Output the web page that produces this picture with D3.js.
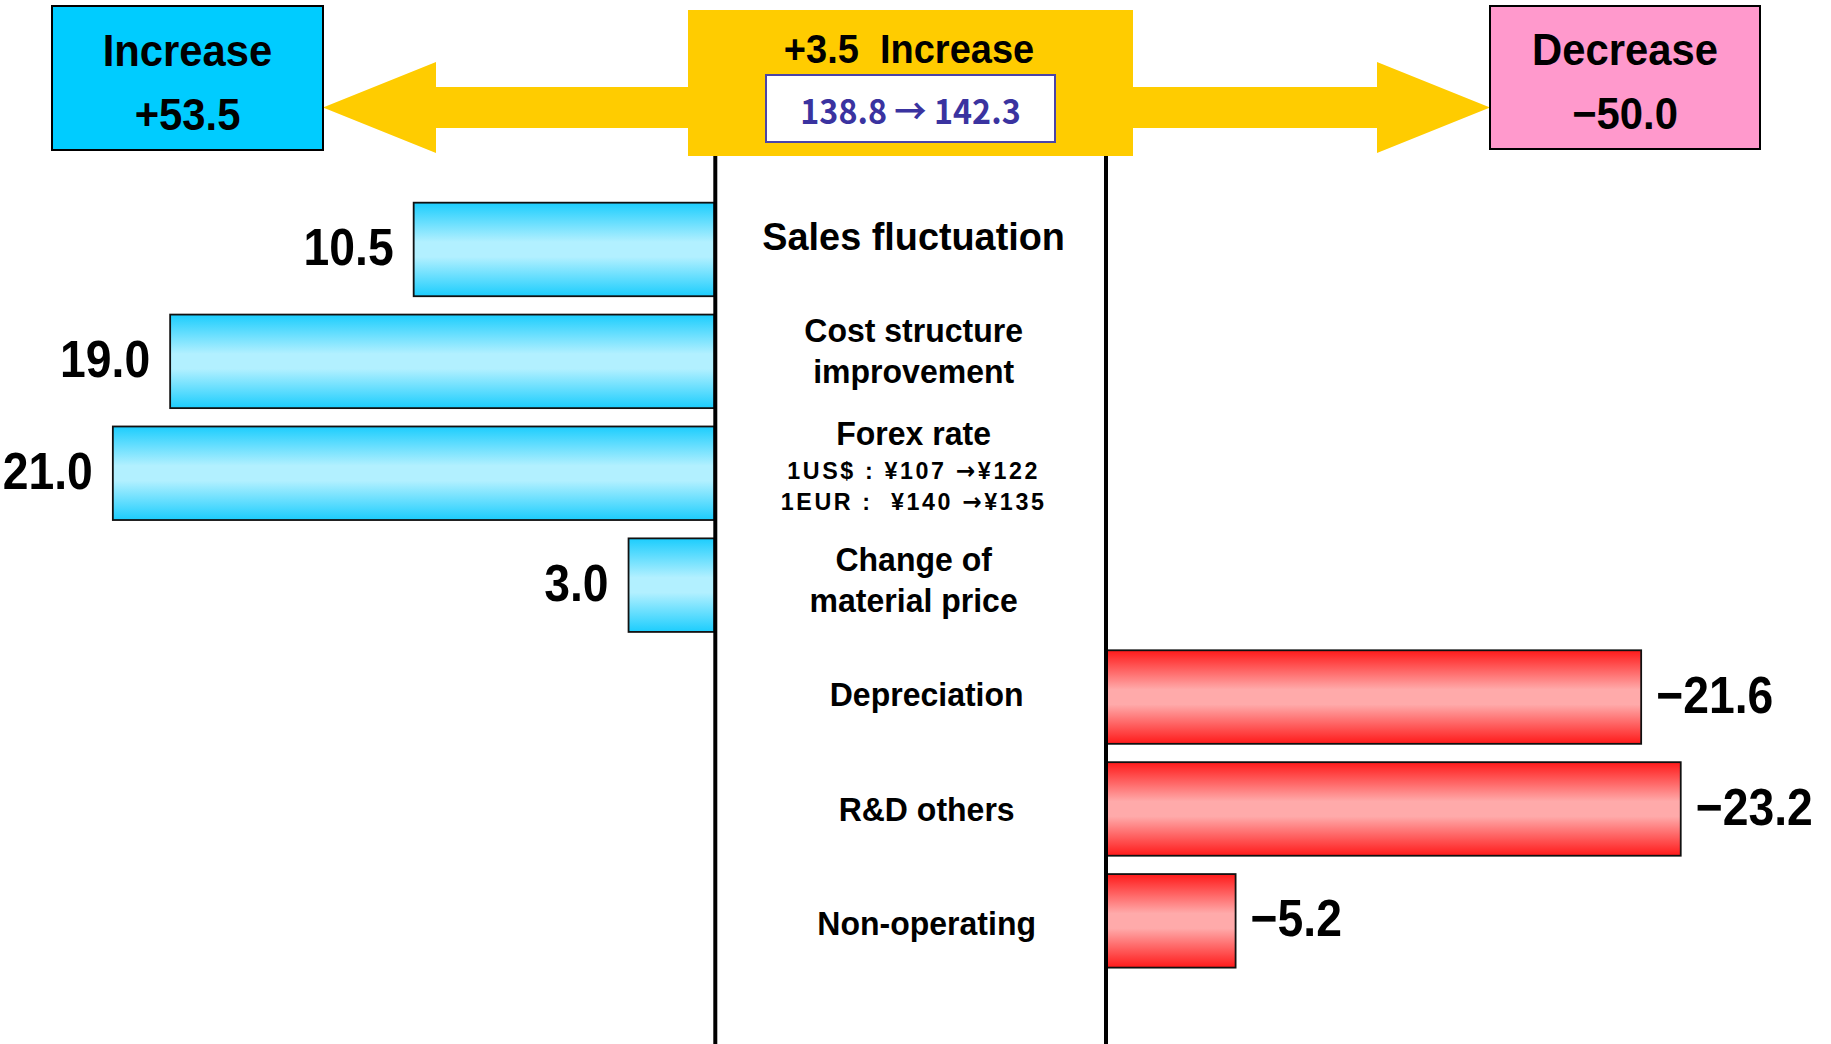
<!DOCTYPE html>
<html>
<head>
<meta charset="utf-8">
<script src="https://cdn.jsdelivr.net/npm/d3@7"></script>
<style>
  html, body { margin: 0; padding: 0; background: #fff; }
  svg { display: block; }
  text { white-space: pre; }
</style>
</head>
<body>
<svg id="chart" width="1831" height="1044"></svg>
<script>
// Operating income change factors (billion yen)
const categories = [
  "Sales fluctuation",
  "Cost structure improvement",
  "Forex rate",
  "Change of material price",
  "Depreciation",
  "R&D others",
  "Non-operating"
];
const labelLines = [
  ["Sales fluctuation"],
  ["Cost structure", "improvement"],
  ["Forex rate"],
  ["Change of", "material price"],
  ["Depreciation"],
  ["R&D others"],
  ["Non-operating"]
];
const forexNotes = ["1US$ : \u00a5107 \u2192\u00a5122", "1EUR :  \u00a5140 \u2192\u00a5135"];
const values = [10.5, 19.0, 21.0, 3.0, -21.6, -23.2, -5.2];
const previousTotal = 138.8;

// ---- derived totals ----
const increase = d3.sum(values.filter(v => v > 0));
const decrease = d3.sum(values.filter(v => v < 0));
const net = increase + decrease;
const currentTotal = previousTotal + net;
const signed = v => (v > 0 ? "+" : v < 0 ? "\u2212" : "") + Math.abs(v).toFixed(1);

const svg = d3.select("#chart");
const W = 1831, H = 1044;

// ---- fonts & colours ----
const NUM_FONT = "'Liberation Sans', Arimo, Arial, sans-serif";
const JP_FONT = "'Noto Sans CJK JP', 'Noto Sans', sans-serif";
const ARROW_FONT = "'DejaVu Sans', sans-serif";
const YELLOW = "#ffcc00";

// ---- gradients ----
const defs = svg.append("defs");
function vGradient(id, edge, mid) {
  const g = defs.append("linearGradient").attr("id", id)
    .attr("x1", 0).attr("y1", 0).attr("x2", 0).attr("y2", 1);
  [[0, edge], [0.42, mid], [0.58, mid], [1, edge]].forEach(([o, c]) =>
    g.append("stop").attr("offset", o).attr("stop-color", c));
}
vGradient("gBlue", "#1ccdfd", "#b2f0ff");
vGradient("gRed", "#ff1a1a", "#ffaaaa");

// ---- scales ----
const y = d3.scaleBand().domain(categories)
  .range([193.5, 976.8]).paddingInner(0.164).paddingOuter(0.082);
const yLabel = d3.scalePoint().domain(categories).range([236, 923.6]);
const xInc = d3.scaleLinear().domain([0, 25]).range([714.5, 714.5 - 25 * 28.65]);
const xDec = d3.scaleLinear().domain([0, -25]).range([1107, 1107 + 25 * 24.73]);

// condensed text helper: text placed in a horizontally scaled group
function txt(parent, x, yy, str, o) {
  const g = parent.append("g")
    .attr("transform", `translate(${x},${yy}) scale(${o.sx || 1},1)`);
  return g.append("text")
    .attr("text-anchor", o.anchor || "middle")
    .attr("font-family", o.font || NUM_FONT)
    .attr("font-size", o.size)
    .attr("font-weight", o.weight || "bold")
    .attr("fill", o.fill || "#000")
    .text(str);
}

// ---- header: double arrow, totals boxes ----
const header = svg.append("g");
const arrowY = 107.5, shaftH = 20.5, headH = 45.5, headL = 113;
const arrowL = 323, arrowR = 1490;
header.append("path")
  .attr("d", d3.line()([
    [arrowL, arrowY],
    [arrowL + headL, arrowY - headH],
    [arrowL + headL, arrowY - shaftH],
    [arrowR - headL, arrowY - shaftH],
    [arrowR - headL, arrowY - headH],
    [arrowR, arrowY],
    [arrowR - headL, arrowY + headH],
    [arrowR - headL, arrowY + shaftH],
    [arrowL + headL, arrowY + shaftH],
    [arrowL + headL, arrowY + headH]
  ]) + "Z")
  .attr("fill", YELLOW);

// increase total box
header.append("rect").attr("x", 52).attr("y", 6).attr("width", 271).attr("height", 144)
  .attr("fill", "#00ccff").attr("stroke", "#000").attr("stroke-width", 2);
txt(header, 187.5, 66, "Increase", { size: 44, sx: 0.95 });
txt(header, 187.5, 130, signed(increase), { size: 44, sx: 0.95 });

// decrease total box
header.append("rect").attr("x", 1490).attr("y", 6).attr("width", 270).attr("height", 143)
  .attr("fill", "#ff99cc").attr("stroke", "#000").attr("stroke-width", 2);
txt(header, 1625, 65, "Decrease", { size: 44, sx: 0.95 });
txt(header, 1625, 129, signed(decrease), { size: 44, sx: 0.95 });

// net change box
header.append("rect").attr("x", 688).attr("y", 10).attr("width", 445).attr("height", 146)
  .attr("fill", YELLOW);
txt(header, 909, 63, signed(net) + "  Increase", { size: 40, sx: 0.95 });
header.append("rect").attr("x", 766).attr("y", 75).attr("width", 289).attr("height", 67)
  .attr("fill", "#fff").attr("stroke", "#4a44a8").attr("stroke-width", 2);
txt(header, 910.5, 124,
  previousTotal.toFixed(1) + " \u2192 " + currentTotal.toFixed(1),
  { size: 34, sx: 0.95, font: JP_FONT, fill: "#3a33a0", weight: "bold" });

// ---- bars ----
const rows = values.map((v, i) => ({ cat: categories[i], v, lines: labelLines[i] }));

svg.append("g").selectAll("rect")
  .data(rows)
  .join("rect")
  .attr("x", d => d.v > 0 ? xInc(d.v) : xDec(0))
  .attr("width", d => d.v > 0 ? xInc(0) - xInc(d.v) : xDec(d.v) - xDec(0))
  .attr("y", d => y(d.cat))
  .attr("height", y.bandwidth())
  .attr("fill", d => d.v > 0 ? "url(#gBlue)" : "url(#gRed)")
  .attr("stroke", "#111")
  .attr("stroke-width", 1.8);

// value labels
const vl = svg.append("g");
rows.forEach(d => {
  const cy = y(d.cat) + y.bandwidth() / 2 + 15.6;
  if (d.v > 0) {
    txt(vl, xInc(d.v) - 20, cy, d.v.toFixed(1), { size: 52, sx: 0.89, anchor: "end" });
  } else {
    txt(vl, xDec(d.v) + 15, cy, signed(d.v), { size: 52, sx: 0.89, anchor: "start" });
  }
});

// ---- centre column rules ----
const ruleL = 715.3, ruleR = 1106;
svg.append("g").selectAll("line")
  .data([ruleL, ruleR])
  .join("line")
  .attr("x1", d => d).attr("x2", d => d)
  .attr("y1", 156).attr("y2", H)
  .attr("stroke", "#000").attr("stroke-width", 4);

// ---- category labels in the centre column ----
const cl = svg.append("g");
const colMid = (ruleL + ruleR) / 2;
rows.forEach(d => {
  const main = d.cat === categories[0] ? 39 : 33;
  const lines = d.lines.map(t => ({ t, size: main, sub: false }));
  if (d.cat === "Forex rate") forexNotes.forEach(t => lines.push({ t, size: 24, sub: true }));
  // baselines relative to the first one
  let b = 0;
  lines.forEach((ln, i) => {
    if (i > 0) b += ln.sub ? (lines[i - 1].sub ? 31 : 34) : 41;
    ln.b = b;
  });
  const topOff = -0.72 * lines[0].size;
  const first = yLabel(d.cat) - (topOff + b) / 2;
  // labels of decreasing items lean toward the red bars
  const lx = colMid + (d.v < 0 ? 16 : 3);
  const t = cl.append("text")
    .attr("transform", `translate(${lx},${first}) scale(0.97,1)`)
    .attr("text-anchor", "middle")
    .attr("font-family", NUM_FONT)
    .attr("font-weight", "bold")
    .attr("fill", "#000");
  lines.forEach(ln => {
    const span = t.append("tspan")
      .attr("x", 0)
      .attr("y", ln.b)
      .attr("font-size", ln.size)
      .attr("letter-spacing", ln.sub ? 2.7 : 0);
    // arrows take a font with a full-size glyph
    ln.t.split("\u2192").forEach((part, k) => {
      if (k > 0) span.append("tspan").attr("font-family", ARROW_FONT).text("\u2192");
      span.append("tspan").text(part);
    });
  });
});
</script>
</body>
</html>
